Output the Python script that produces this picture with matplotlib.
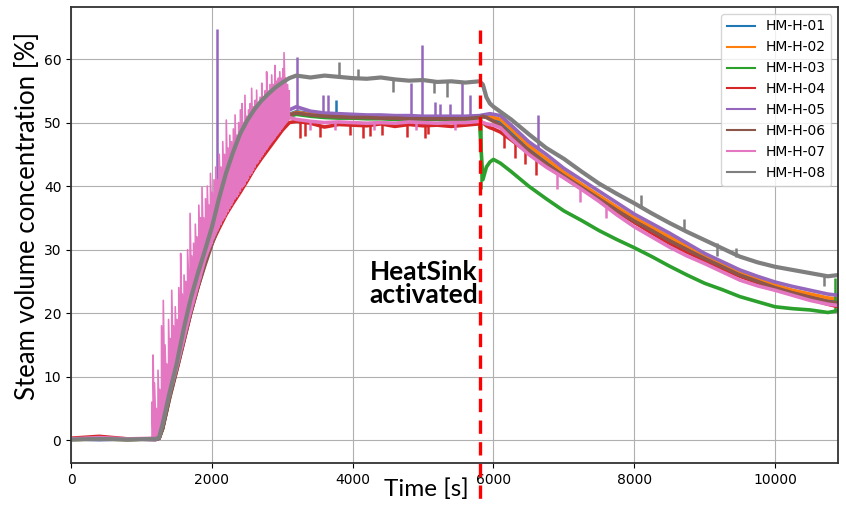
import matplotlib
matplotlib.use("Agg")
import matplotlib.pyplot as plt

# time grid [s] shared by all sensors
time_s = [0, 400, 800, 1200,
          1250, 1300, 1400, 1500, 1600, 1700, 1800, 1900, 2000, 2100,
          2200, 2300, 2400, 2500, 2600, 2700, 2800, 2900, 3000, 3100,
          3200, 3400, 3600, 3800, 4000, 4200, 4400, 4600, 4800, 5000,
          5200, 5400, 5600, 5800,
          5850, 5900, 5950, 6000, 6100,
          6250, 6500, 6750, 7000, 7250, 7500, 7750, 8000, 8250, 8500,
          8750, 9000, 9250, 9500, 9750, 10000, 10250, 10500, 10750, 10900]

hm_01 = [0.2, 0.1, 0.2, 0.1,
         0.3, 1.9, 6.9, 11.3, 15.9, 20.3, 24.3, 27.9, 31.3, 34.3,
         36.9, 39.3, 41.3, 43.3, 45.3, 46.9, 48.4, 49.7, 50.7, 51.3,
         51.7, 51.4, 51.2, 51.1, 51.0, 50.9, 50.9, 50.8, 50.8, 50.8,
         50.7, 50.7, 50.7, 50.9,
         50.9, 50.9, 50.8, 50.6, 50.2,
         48.7, 46.0, 43.9, 41.8, 39.9, 38.1, 36.3, 34.7, 33.2, 31.7,
         30.2, 28.8, 27.5, 26.2, 25.1, 24.2, 23.4, 22.8, 22.2, 22.0]
hm_02 = [0.1, 0.2, 0.1, 0.2,
         0.3, 1.8, 6.8, 11.2, 15.8, 20.2, 24.2, 27.8, 31.2, 34.2,
         36.8, 39.2, 41.2, 43.2, 45.2, 46.8, 48.3, 49.6, 50.6, 51.2,
         51.6, 51.3, 51.1, 51.0, 50.9, 50.9, 50.8, 50.8, 50.8, 50.7,
         50.7, 50.7, 50.7, 50.9,
         51.0, 51.0, 51.0, 50.8, 50.5,
         49.0, 46.4, 44.3, 42.2, 40.3, 38.5, 36.7, 35.0, 33.5, 32.0,
         30.5, 29.0, 27.7, 26.4, 25.3, 24.4, 23.6, 23.0, 22.4, 22.2]
hm_03 = [0.1, 0.2, 0.1, 0.2,
         0.3, 1.8, 6.8, 11.3, 15.8, 20.2, 24.2, 27.8, 31.2, 34.2,
         36.8, 39.2, 41.2, 43.2, 45.2, 46.8, 48.3, 49.6, 50.5, 51.0,
         51.3, 51.0, 50.8, 50.7, 50.7, 50.6, 50.6, 50.5, 50.5, 50.5,
         50.5, 50.4, 50.4, 50.5,
         41.0, 43.0, 43.8, 44.2, 43.6,
         42.3, 40.0, 38.0, 36.1, 34.6, 33.0, 31.6, 30.3, 28.9, 27.4,
         26.0, 24.7, 23.7, 22.6, 21.8, 21.0, 20.7, 20.5, 20.1, 20.4]
hm_04 = [0.3, 0.6, 0.2, 0.1,
         0.3, 2.0, 7.0, 11.0, 15.5, 20.0, 24.0, 28.0, 31.0, 33.3,
         35.5, 37.3, 39.0, 40.8, 42.7, 44.3, 45.8, 47.3, 48.8, 50.0,
         50.2, 49.9, 49.3, 49.7, 49.6, 49.5, 49.8, 49.4, 49.7, 49.5,
         49.6, 49.4, 49.6, 49.8,
         50.0, 49.5, 49.2, 49.0, 48.5,
         47.3, 45.2, 43.2, 41.4, 39.6, 37.8, 36.0, 34.3, 32.6, 31.0,
         29.6, 28.3, 27.0, 25.8, 24.8, 23.9, 23.0, 22.2, 21.4, 21.0]
hm_05 = [0.2, 0.1, 0.2, 0.1,
         0.3, 2.0, 7.0, 11.5, 16.0, 20.5, 24.5, 28.0, 31.5, 34.5,
         37.0, 39.5, 41.5, 43.5, 45.5, 47.0, 48.5, 50.0, 51.0, 52.0,
         52.5, 51.8, 51.5, 51.4, 51.3, 51.2, 51.2, 51.1, 51.1, 51.0,
         51.0, 51.0, 51.0, 51.1,
         51.2, 51.3, 51.4, 51.3, 51.1,
         49.6, 47.0, 45.0, 42.8, 41.0, 39.2, 37.4, 35.6, 34.1, 32.6,
         31.0, 29.4, 28.1, 26.8, 25.8, 24.9, 24.2, 23.6, 23.0, 22.8]
hm_06 = [0.2, 0.3, 0.1, 0.2,
         0.3, 1.8, 6.6, 11.0, 15.5, 20.0, 24.0, 27.5, 30.8, 33.8,
         36.3, 38.7, 40.8, 42.8, 44.7, 46.3, 47.8, 49.2, 50.4, 51.2,
         51.5, 51.2, 51.0, 50.9, 50.8, 50.8, 50.7, 50.7, 50.6, 50.6,
         50.6, 50.6, 50.6, 50.8,
         51.0, 50.8, 50.5, 50.2, 49.6,
         48.0, 45.6, 43.5, 41.6, 39.8, 38.0, 36.2, 34.5, 33.0, 31.4,
         30.0, 28.6, 27.3, 26.0, 25.0, 24.0, 23.2, 22.5, 21.8, 21.6]
hm_07 = [0.2, 0.4, 0.2, 0.3,
         1.0, 2.5, 7.5, 11.5, 16.0, 20.5, 24.5, 28.5, 31.5, 34.0,
         36.0, 38.0, 40.0, 41.8, 43.5, 45.0, 46.5, 48.0, 49.5, 50.8,
         50.5, 50.2, 50.0, 50.1, 50.0, 49.9, 50.0, 49.9, 50.1, 50.0,
         49.9, 50.0, 50.0, 50.2,
         50.0, 49.8, 49.7, 49.6, 49.2,
         47.5, 45.0, 43.0, 41.3, 39.5, 37.6, 35.5, 33.6, 32.0, 30.4,
         29.0, 27.8, 26.5, 25.2, 24.3, 23.6, 22.8, 22.0, 21.4, 21.2]
hm_08 = [0.1, 0.2, 0.1, 0.2,
         0.4, 2.5, 7.5, 12.0, 17.5, 22.3, 26.2, 29.8, 33.5, 38.0,
         42.0, 45.3, 48.2, 50.3, 52.0, 53.4, 54.5, 55.5, 56.3, 57.0,
         57.4, 57.1, 57.4, 57.2, 57.0, 56.9, 57.1, 56.8, 56.6, 56.7,
         56.4, 56.5, 56.3, 56.5,
         56.0, 54.0, 53.0, 52.5, 51.7,
         50.5, 48.2, 46.0, 44.3, 42.3, 40.4, 38.8, 37.3, 35.7, 34.2,
         32.8, 31.5, 30.2, 28.9, 28.0, 27.3, 26.8, 26.3, 25.8, 26.0]

# short spikes / dips: (time, low, high)
spikes_01 = [(3770, 51.0, 53.5)]
spikes_03 = [(5825, 39.5, 50.5), (10850, 20.2, 25.5)]
spikes_04 = [(300, 0.1, 0.8), (3253, 47.6, 50.1), (3324, 47.9, 49.9), (3537, 47.7, 49.5),
             (3963, 48.0, 49.6), (4148, 47.6, 49.6), (4247, 47.9, 49.6), (4413, 48.1, 49.8),
             (4768, 47.8, 49.7), (5028, 47.6, 49.5), (5076, 48.2, 49.5),
             (6150, 46.0, 48.5), (6300, 44.5, 47.0), (6450, 43.5, 45.8), (6600, 41.8, 44.5)]
spikes_05 = [(2074, 38.0, 64.8), (3205, 52.0, 60.4), (3580, 51.5, 54.3), (3650, 51.5, 54.3),
             (4830, 51.1, 56.2), (4980, 51.0, 62.2), (5170, 51.0, 53.3), (5240, 51.0, 53.0),
             (5380, 51.0, 53.0), (5550, 51.0, 56.4), (5670, 51.0, 54.3), (6640, 46.0, 51.2)]
spikes_07 = [(3400, 48.8, 50.2), (3750, 48.9, 50.0), (4300, 48.8, 49.9), (4900, 48.9, 50.1),
             (5450, 48.8, 50.0), (6900, 39.5, 42.0), (7230, 37.5, 39.6), (7600, 35.0, 37.0)]
spikes_08 = [(3810, 57.2, 59.6), (4077, 57.0, 58.5), (4580, 54.8, 56.9), (5150, 54.6, 56.5),
             (5340, 54.0, 56.5), (8100, 36.6, 38.6), (8700, 33.0, 34.8), (9170, 29.0, 31.0),
             (9450, 28.9, 30.2), (10700, 24.3, 25.9)]

# oscillations of HM-H-07 during the heat-up: (time, trough, peak)
osc_07 = [(1150, 0.2, 6.0), (1165, 0.3, 13.4), (1185, 0.3, 9.0), (1210, 0.5, 5.0),
          (1235, 0.8, 11.0), (1260, 1.2, 8.0), (1285, 2.0, 18.0), (1310, 3.0, 22.0),
          (1335, 4.0, 15.0), (1360, 5.0, 12.0), (1385, 6.0, 19.0), (1410, 7.0, 16.0),
          (1430, 8.0, 23.6), (1455, 9.0, 18.0), (1480, 10.0, 21.0), (1505, 11.0, 19.0),
          (1530, 12.5, 24.0), (1557, 13.5, 29.4), (1580, 14.5, 23.0), (1605, 15.5, 26.0),
          (1630, 17.0, 25.0), (1655, 18.0, 30.0), (1690, 19.5, 35.7), (1715, 20.5, 29.0),
          (1740, 21.5, 31.0), (1765, 22.5, 34.0), (1790, 23.5, 32.0), (1815, 24.5, 37.0),
          (1840, 25.5, 35.0), (1860, 26.5, 39.8), (1885, 27.5, 35.0), (1910, 28.5, 38.0),
          (1935, 29.3, 40.0), (1960, 30.0, 37.0), (1980, 30.5, 42.0), (2005, 31.0, 39.0),
          (2030, 31.8, 41.0), (2055, 32.5, 43.0), (2080, 33.0, 41.0), (2105, 33.5, 45.0),
          (2130, 34.0, 43.0), (2155, 34.6, 47.0), (2180, 35.0, 45.0), (2205, 35.5, 50.4),
          (2230, 36.0, 46.0), (2255, 36.5, 48.0), (2280, 37.0, 47.0), (2305, 37.5, 49.0),
          (2330, 38.0, 51.2), (2355, 38.3, 48.0), (2380, 38.7, 50.0), (2405, 39.2, 52.0),
          (2430, 39.7, 53.0), (2450, 40.0, 50.0), (2470, 40.3, 54.3), (2495, 40.8, 51.0),
          (2520, 41.2, 52.0), (2545, 41.7, 53.0), (2565, 42.0, 55.4), (2590, 42.5, 52.5),
          (2615, 43.0, 53.5), (2636, 43.5, 55.1), (2660, 43.8, 53.0), (2685, 44.2, 54.0),
          (2709, 44.6, 56.2), (2730, 45.0, 54.0), (2755, 45.4, 55.0), (2778, 45.8, 58.0),
          (2800, 46.2, 55.0), (2825, 46.6, 56.0), (2850, 47.0, 57.5), (2875, 47.3, 56.0),
          (2897, 47.6, 59.0), (2920, 48.0, 56.5), (2945, 48.3, 57.0), (2965, 48.6, 58.0),
          (2990, 49.0, 57.0), (3010, 49.3, 58.5), (3025, 49.6, 61.0), (3050, 50.0, 57.0),
          (3075, 50.3, 56.0), (3100, 50.6, 55.0)]

labels = ["HM-H-01", "HM-H-02", "HM-H-03", "HM-H-04",
          "HM-H-05", "HM-H-06", "HM-H-07", "HM-H-08"]
series = [hm_01, hm_02, hm_03, hm_04, hm_05, hm_06, hm_07, hm_08]
spikes = [spikes_01, [], spikes_03, spikes_04, spikes_05, [], spikes_07, spikes_08]
colors = ["#1f77b4", "#ff7f0e", "#2ca02c", "#d62728",
          "#9467bd", "#8c564b", "#e377c2", "#7f7f7f"]

heatsink_t = 5810

fig = plt.figure(figsize=(8.46, 5.22), dpi=100)
ax = fig.add_axes([0.084, 0.113, 0.907, 0.8736])

for vals, sp, lab, c in zip(series, spikes, labels, colors):
    lw = 3.0 if lab == "HM-H-08" else 2.6
    ax.plot(time_s, vals, color=c, lw=lw, label=lab)
    if sp:
        ts = [s[0] for s in sp]
        lo = [s[1] for s in sp]
        hi = [s[2] for s in sp]
        ax.vlines(ts, lo, hi, color=c, lw=1.8)
    if lab == "HM-H-07":
        # sawtooth: trough -> peak -> next trough ...
        zt, zv = [], []
        for t, lo, hi in osc_07:
            zt += [t, t]
            zv += [lo, hi]
        ax.plot(zt, zv, color=c, lw=1.2)

# heat sink activation marker, runs below the axis like in the original
ax.plot([heatsink_t, heatsink_t], [64.5, -10.3], color="red", lw=2.4,
        ls=(0, (4, 2.5)), clip_on=False, zorder=5)

ax.text(4240, 24.6, "HeatSink\nactivated", fontsize=19, fontweight="bold",
        family="Lato", ha="left", va="center", linespacing=0.95)

ax.set_xlim(0, 10900)
ax.set_ylim(-3.6, 68.2)
ax.set_xticks([0, 2000, 4000, 6000, 8000, 10000])
ax.set_yticks([0, 10, 20, 30, 40, 50, 60])
ax.grid(True, color="#b0b0b0", lw=0.8)
ax.set_axisbelow(True)
for s in ax.spines.values():
    s.set_linewidth(1.3)
    s.set_color("#333333")

fig.text(0.033, 0.586, "Steam volume concentration [%]", fontsize=18.5, family="Lato",
         rotation=90, ha="center", va="center")
fig.text(0.504, 0.062, "Time [s]", fontsize=17.5, family="Lato", ha="center", va="center")

leg = ax.legend(loc="upper right", fontsize=10, framealpha=0.8, borderaxespad=0.5)
for h in leg.get_lines():
    h.set_linewidth(1.5)

fig.savefig("out.png", dpi=100)
